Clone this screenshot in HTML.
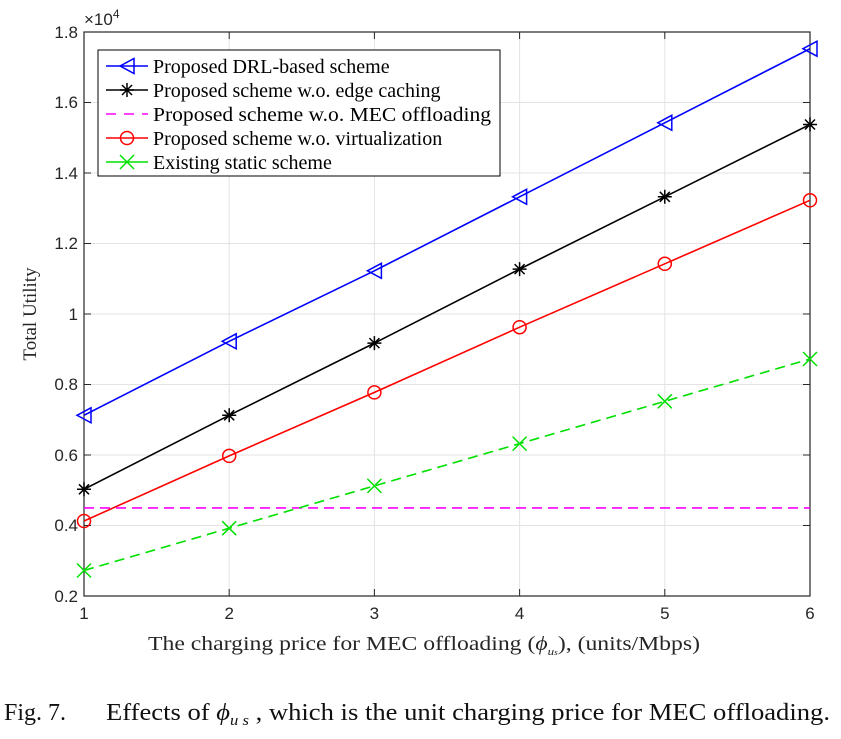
<!DOCTYPE html>
<html><head><meta charset="utf-8"><style>body{margin:0;background:#fff}</style></head><body>
<svg width="841" height="734" xmlns="http://www.w3.org/2000/svg">
<defs><clipPath id="c"><rect x="84" y="32" width="726" height="564"/></clipPath></defs>
<g stroke="#e3e3e3" stroke-width="1">
<line x1="229.2" y1="32" x2="229.2" y2="596"/><line x1="374.4" y1="32" x2="374.4" y2="596"/><line x1="519.6" y1="32" x2="519.6" y2="596"/><line x1="664.8" y1="32" x2="664.8" y2="596"/>
<line x1="84" y1="102.5" x2="810" y2="102.5"/><line x1="84" y1="173" x2="810" y2="173"/><line x1="84" y1="243.5" x2="810" y2="243.5"/><line x1="84" y1="314" x2="810" y2="314"/><line x1="84" y1="384.5" x2="810" y2="384.5"/><line x1="84" y1="455" x2="810" y2="455"/><line x1="84" y1="525.5" x2="810" y2="525.5"/>
</g>
<rect x="84" y="32" width="726" height="564" fill="none" stroke="#262626" stroke-width="1.2"/>
<g stroke="#262626" stroke-width="1">
<path d="M229.2 596v-7M374.4 596v-7M519.6 596v-7M664.8 596v-7M229.2 32v7M374.4 32v7M519.6 32v7M664.8 32v7"/>
<path d="M84 102.5h7M84 173h7M84 243.5h7M84 314h7M84 384.5h7M84 455h7M84 525.5h7M810 102.5h-7M810 173h-7M810 243.5h-7M810 314h-7M810 384.5h-7M810 455h-7M810 525.5h-7"/>
</g>
<g font-family="Liberation Sans, sans-serif" font-size="17" fill="#262626" text-anchor="end">
<text x="78" y="38">1.8</text><text x="78" y="108">1.6</text><text x="78" y="179">1.4</text><text x="78" y="249">1.2</text><text x="78" y="320">1</text><text x="78" y="390">0.8</text><text x="78" y="461">0.6</text><text x="78" y="531">0.4</text><text x="78" y="602">0.2</text>
</g>
<g font-family="Liberation Sans, sans-serif" font-size="17" fill="#262626" text-anchor="middle">
<text x="84" y="619">1</text><text x="229.2" y="619">2</text><text x="374.4" y="619">3</text><text x="519.6" y="619">4</text><text x="664.8" y="619">5</text><text x="810" y="619">6</text>
</g>
<text x="84" y="25" font-family="Liberation Sans, sans-serif" font-size="17" fill="#262626">×10<tspan font-size="12" dy="-7">4</tspan></text>
<text transform="translate(36,314) rotate(-90)" text-anchor="middle" font-family="Liberation Serif, serif" font-size="19" fill="#262626">Total Utility</text>
<text x="148" y="650" font-family="Liberation Serif, serif" font-size="20" fill="#262626" textLength="552" lengthAdjust="spacingAndGlyphs">The charging price for MEC offloading (<tspan font-style="italic">ϕ</tspan><tspan font-size="11" dy="5" font-style="italic">u<tspan font-size="8">s</tspan></tspan><tspan dy="-5">), (units/Mbps)</tspan></text>
<text x="4" y="720" font-family="Liberation Serif, serif" font-size="24" fill="#111">Fig. 7.</text>
<text x="106" y="720" font-family="Liberation Serif, serif" font-size="24" fill="#111" textLength="724" lengthAdjust="spacingAndGlyphs">Effects of <tspan font-style="italic">ϕ</tspan><tspan font-size="15" dy="5" font-style="italic">u s</tspan><tspan dy="-5"> , which is the unit charging price for MEC offloading.</tspan></text>
<g clip-path="url(#c)" fill="none" stroke-width="1.6">
<line x1="84" y1="507.9" x2="810" y2="507.9" stroke="#ff00ff" stroke-dasharray="10,6"/>
<polyline stroke="#00e000" stroke-dasharray="10,6" points="84,570.5 229.2,528.2 374.4,485.9 519.6,443.6 664.8,401.3 810,359"/>
<polyline stroke="#ff0000" points="84,521 229.2,455.9 374.4,392.4 519.6,327.2 664.8,263.8 810,200.3"/>
<polyline stroke="#000" points="84,489.3 229.2,415.3 374.4,343.1 519.6,269.1 664.8,196.8 810,124.5"/>
<polyline stroke="#0000ff" points="84,415.3 229.2,341.3 374.4,270.8 519.6,196.8 664.8,122.8 810,48.7"/>
</g>
<g fill="none" stroke-width="1.5">
<g stroke="#0000ff"><path d="M77 415.3l14-7.5v15z"/><path d="M222.2 341.3l14-7.5v15z"/><path d="M367.4 270.8l14-7.5v15z"/><path d="M512.6 196.8l14-7.5v15z"/><path d="M657.8 122.8l14-7.5v15z"/><path d="M803 48.7l14-7.5v15z"/></g>
<g stroke="#ff0000"><circle cx="84" cy="521" r="6.5"/><circle cx="229.2" cy="455.9" r="6.5"/><circle cx="374.4" cy="392.4" r="6.5"/><circle cx="519.6" cy="327.2" r="6.5"/><circle cx="664.8" cy="263.8" r="6.5"/><circle cx="810" cy="200.3" r="6.5"/></g>
</g>
<g stroke="#000" stroke-width="1.5" fill="none">
<path d="M77 489.3h14M84 482.3v14M79 484.3l10 10M79 494.3l10-10"/>
<path d="M222.2 415.3h14M229.2 408.3v14M224.2 410.3l10 10M224.2 420.3l10-10"/>
<path d="M367.4 343.1h14M374.4 336.1v14M369.4 338.1l10 10M369.4 348.1l10-10"/>
<path d="M512.6 269.1h14M519.6 262.1v14M514.6 264.1l10 10M514.6 274.1l10-10"/>
<path d="M657.8 196.8h14M664.8 189.8v14M659.8 191.8l10 10M659.8 201.8l10-10"/>
<path d="M803 124.5h14M810 117.5v14M805 119.5l10 10M805 129.5l10-10"/>
</g>
<g stroke="#00e000" stroke-width="1.5" fill="none">
<path d="M77 563.5l14 14M77 577.5l14-14"/><path d="M222.2 521.2l14 14M222.2 535.2l14-14"/><path d="M367.4 478.9l14 14M367.4 492.9l14-14"/><path d="M512.6 436.6l14 14M512.6 450.6l14-14"/><path d="M657.8 394.3l14 14M657.8 408.3l14-14"/><path d="M803 352l14 14M803 366l14-14"/>
</g>
<rect x="98" y="50" width="402" height="126" fill="#fff" stroke="#000" stroke-width="1"/>
<g stroke-width="1.5" fill="none">
<line x1="106" y1="66" x2="148" y2="66" stroke="#0000ff"/><path d="M120 66l14-7.5v15z" stroke="#0000ff"/>
<line x1="106" y1="90" x2="148" y2="90" stroke="#000"/><path d="M120 90h14M127 83v14M122 85l10 10M122 95l10-10" stroke="#000"/>
<line x1="106" y1="114" x2="148" y2="114" stroke="#ff00ff" stroke-dasharray="10,8"/>
<line x1="106" y1="138" x2="148" y2="138" stroke="#ff0000"/><circle cx="127" cy="138" r="6.5" stroke="#ff0000"/>
<line x1="106" y1="162" x2="148" y2="162" stroke="#00e000"/><path d="M120 155l14 14M120 169l14-14" stroke="#00e000"/>
</g>
<g font-family="Liberation Serif, serif" font-size="20" fill="#000">
<text x="153" y="73">Proposed DRL-based scheme</text>
<text x="153" y="97">Proposed scheme w.o. edge caching</text>
<text x="153" y="121" textLength="338" lengthAdjust="spacingAndGlyphs">Proposed scheme w.o. MEC offloading</text>
<text x="153" y="145">Proposed scheme w.o. virtualization</text>
<text x="153" y="169">Existing static scheme</text>
</g>
</svg>
</body></html>
